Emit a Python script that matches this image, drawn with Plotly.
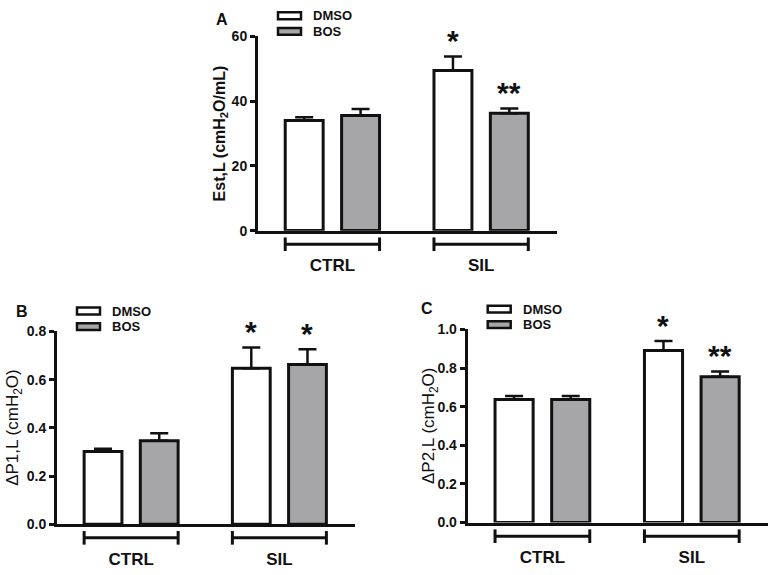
import plotly.graph_objects as go

# ---------------- data ----------------
categories = ["CTRL", "SIL"]
series_names = ["DMSO", "BOS"]

est_dmso = [34.0, 49.4]
est_dmso_sem = [1.0, 4.3]
est_bos = [35.5, 36.2]
est_bos_sem = [2.0, 1.5]
est_dmso_sig = ["", "*"]
est_bos_sig = ["", "**"]

dp1_dmso = [0.302, 0.647]
dp1_dmso_sem = [0.011, 0.086]
dp1_bos = [0.346, 0.663]
dp1_bos_sem = [0.032, 0.063]
dp1_dmso_sig = ["", "*"]
dp1_bos_sig = ["", "*"]

dp2_dmso = [0.638, 0.891]
dp2_dmso_sem = [0.018, 0.049]
dp2_bos = [0.638, 0.755]
dp2_bos_sem = [0.018, 0.027]
dp2_dmso_sig = ["", "*"]
dp2_bos_sig = ["", "**"]

# ---------------- layout helpers ----------------
W, H = 773, 575
FONT = "Liberation Sans, Arial, sans-serif"
INK = "#111111"
GRAY = "#a6a6a8"
BARGAP = 0.242
BARGROUPGAP = 0.327
XR = [-0.5, 1.51]


def px(x):
    return x / W


def py(y):
    return 1 - y / H


panels = [
    dict(letter="A", dmso=est_dmso, dmso_sem=est_dmso_sem, bos=est_bos, bos_sem=est_bos_sem,
         dmso_sig=est_dmso_sig, bos_sig=est_bos_sig,
         xdom=(258, 557), ydom=(29, 229), yrange=[0, 60], dtick=20, fmt="d",
         title="Est,L (cmH<sub>2</sub>O/mL)", title_x=220, title_weight="bold", title_size=16,
         letter_pos=(221.5, 11.5)),
    dict(letter="B", dmso=dp1_dmso, dmso_sem=dp1_dmso_sem, bos=dp1_bos, bos_sem=dp1_bos_sem,
         dmso_sig=dp1_dmso_sig, bos_sig=dp1_bos_sig,
         xdom=(57, 355), ydom=(332.7, 531), yrange=[0, 0.8], dtick=0.2, fmt=".1f",
         title="ΔP1,L (cmH<sub>2</sub>O)", title_x=14, title_weight="normal", title_size=17,
         letter_pos=(21.5, 312)),
    dict(letter="C", dmso=dp2_dmso, dmso_sem=dp2_dmso_sem, bos=dp2_bos, bos_sem=dp2_bos_sem,
         dmso_sig=dp2_dmso_sig, bos_sig=dp2_bos_sig,
         xdom=(467.7, 768), ydom=(330.7, 529.3), yrange=[0, 1.0], dtick=0.2, fmt=".1f",
         title="ΔP2,L (cmH<sub>2</sub>O)", title_x=430, title_weight="normal", title_size=17,
         letter_pos=(427, 309)),
]

fig = go.Figure()
shapes = []
annotations = []

pitch = (1 - BARGAP) / 2
half_bar = pitch * (1 - BARGROUPGAP) / 2

for i, p in enumerate(panels):
    n = "" if i == 0 else str(i + 1)
    xa, ya = "x" + n, "y" + n
    for name, vals, sem, fill in [("DMSO", p["dmso"], p["dmso_sem"], "white"),
                                  ("BOS", p["bos"], p["bos_sem"], GRAY)]:
        fig.add_trace(go.Bar(
            x=categories, y=vals, name=name, showlegend=False,
            marker=dict(color=fill, line=dict(color=INK, width=3)),
            error_y=dict(type="data", array=sem, arrayminus=[0] * len(sem), symmetric=False,
                         color=INK, thickness=2.5, width=9),
            xaxis=xa, yaxis=ya, hoverinfo="skip",
        ))

    x0, x1 = p["xdom"]
    ytop, ybot = p["ydom"]
    fig.update_layout(**{
        "xaxis" + n: dict(domain=[px(x0), px(x1)], anchor=ya, range=XR, type="category",
                          showline=True, linewidth=3, linecolor=INK, ticks="",
                          showticklabels=True, ticklabelstandoff=17,
                          tickfont=dict(family=FONT, size=17, color=INK, weight="bold"),
                          showgrid=False, zeroline=False, fixedrange=True),
        "yaxis" + n: dict(domain=[py(ybot), py(ytop)], anchor=xa, range=p["yrange"],
                          dtick=p["dtick"], tick0=0, tickformat=p["fmt"],
                          showline=True, linewidth=3, linecolor=INK,
                          ticks="outside", ticklen=5, tickwidth=3, tickcolor=INK,
                          tickfont=dict(family=FONT, size=14, color=INK, weight="bold"),
                          showgrid=False, zeroline=False, fixedrange=True),
    })

    def cat_px(c, x0=x0, x1=x1):
        return x0 + (c - XR[0]) / (XR[1] - XR[0]) * (x1 - x0)

    # group brackets
    for ci, cat in enumerate(categories):
        left = cat_px(ci - pitch / 2 - half_bar)
        right = cat_px(ci + pitch / 2 + half_bar)
        yb = ybot + 14
        shapes.append(dict(type="line", xref="paper", yref="paper",
                           x0=px(left), x1=px(right), y0=py(yb), y1=py(yb),
                           line=dict(color=INK, width=3)))
        for xe in (left, right):
            shapes.append(dict(type="line", xref="paper", yref="paper",
                               x0=px(xe), x1=px(xe), y0=py(yb - 7), y1=py(yb + 7),
                               line=dict(color=INK, width=3)))

    # significance stars
    for off, vals, sem, sig in [(-pitch / 2, p["dmso"], p["dmso_sem"], p["dmso_sig"]),
                                (pitch / 2, p["bos"], p["bos_sem"], p["bos_sig"])]:
        for ci, s in enumerate(sig):
            if s:
                annotations.append(dict(text=s, xref=xa, yref=ya, x=ci + off,
                                        y=vals[ci] + sem[ci], xanchor="center",
                                        yanchor="middle", yshift=16, showarrow=False,
                                        font=dict(family=FONT, size=30, color=INK,
                                                  weight="bold")))

    # y title
    annotations.append(dict(text=p["title"], xref="paper", yref="paper",
                            x=px(p["title_x"]), y=py((ytop + ybot) / 2), textangle=-90,
                            xanchor="center", yanchor="middle", showarrow=False,
                            font=dict(family=FONT, size=p["title_size"], color=INK,
                                      weight=p["title_weight"])))
    # panel letter
    lx, ly = p["letter_pos"]
    annotations.append(dict(text=p["letter"], xref="paper", yref="paper", x=px(lx), y=py(ly),
                            xanchor="center", yanchor="middle", showarrow=False,
                            font=dict(family=FONT, size=16, color=INK, weight="bold")))

    # custom legend
    for li, (name, fill) in enumerate(zip(series_names, ["white", GRAY])):
        cy = ytop - 21 + li * 16
        shapes.append(dict(type="rect", xref="paper", yref="paper",
                           x0=px(x0 + 20), x1=px(x0 + 43), y0=py(cy - 3.5), y1=py(cy + 3.5),
                           fillcolor=fill, line=dict(color=INK, width=2.5)))
        annotations.append(dict(text=name, xref="paper", yref="paper", x=px(x0 + 53),
                                y=py(cy), xanchor="left", yanchor="middle", showarrow=False,
                                font=dict(family=FONT, size=13, color=INK, weight="bold")))

fig.update_layout(
    width=W, height=H, autosize=False,
    margin=dict(l=0, r=0, t=0, b=0),
    paper_bgcolor="white", plot_bgcolor="white",
    barmode="group", bargap=BARGAP, bargroupgap=BARGROUPGAP,
    shapes=shapes, annotations=annotations,
    font=dict(family=FONT, color=INK),
)

fig.write_html("out.html", config={"displayModeBar": False},
               post_script="document.body.style.margin='0px';")
